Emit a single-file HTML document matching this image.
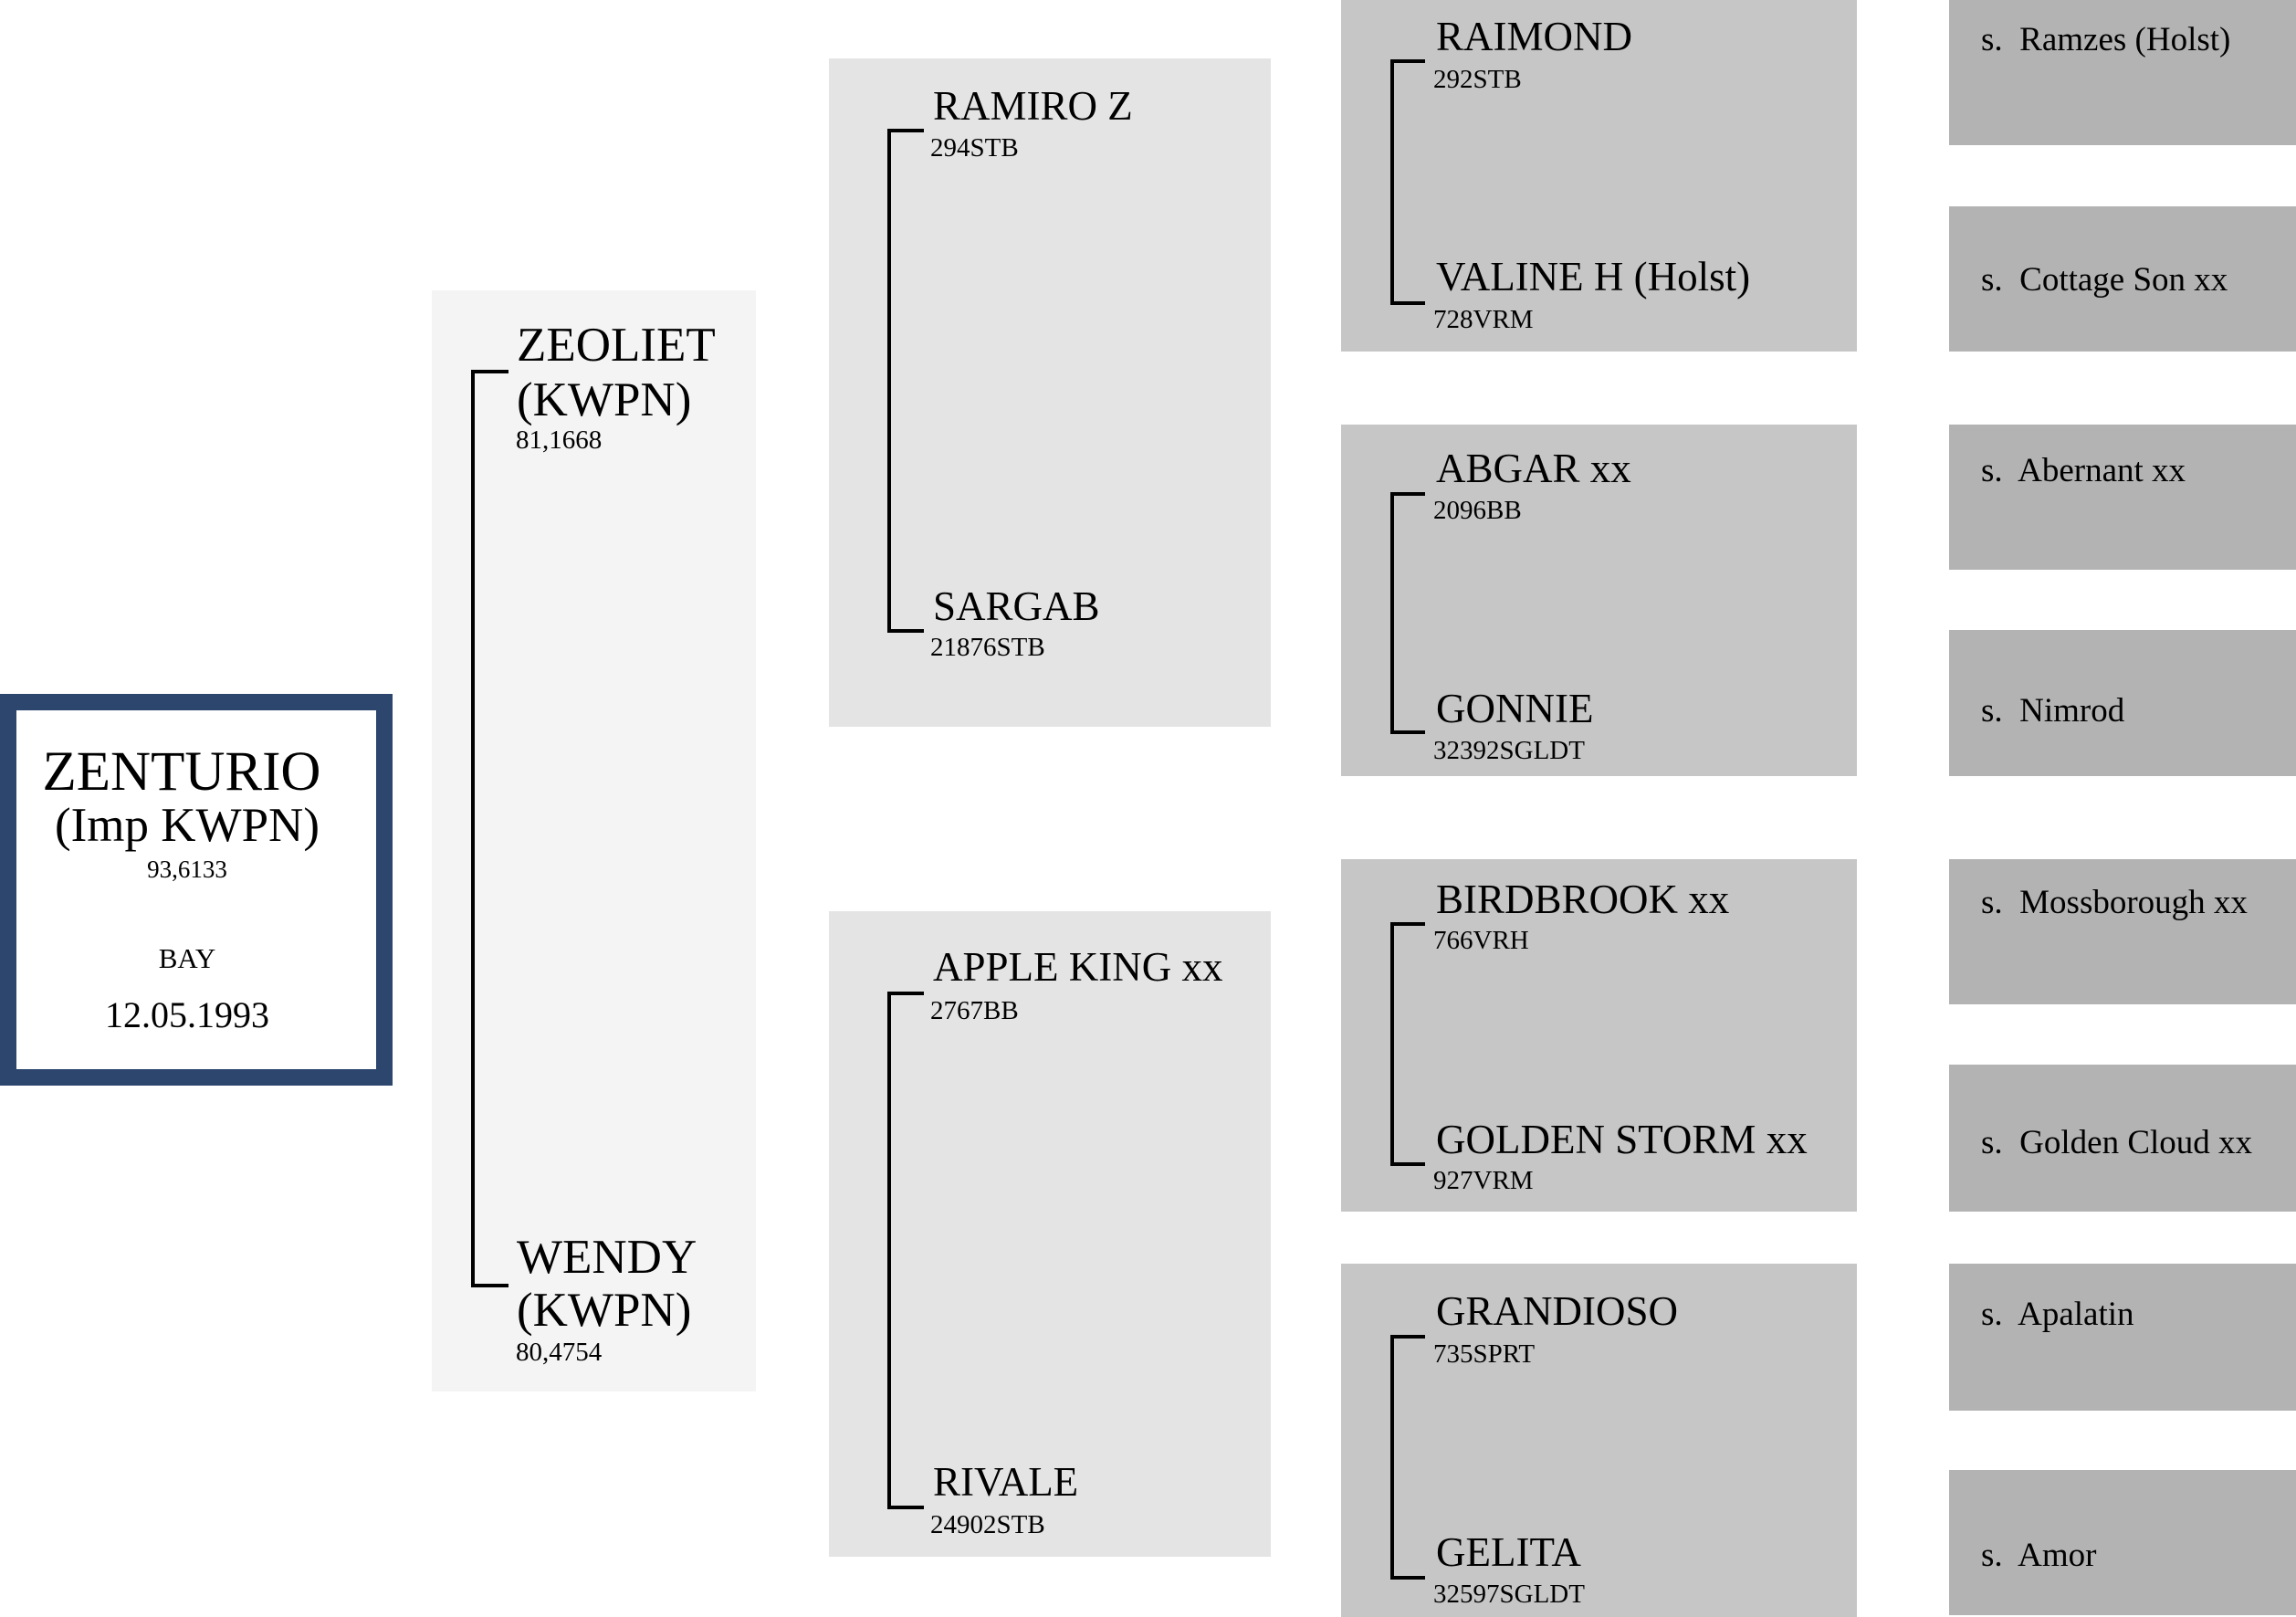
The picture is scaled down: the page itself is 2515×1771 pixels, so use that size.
<!DOCTYPE html>
<html><head><meta charset="utf-8"><style>
html,body{margin:0;padding:0;background:#fff;}
body{width:2515px;height:1771px;position:relative;overflow:hidden;font-family:"Liberation Serif",serif;color:#000;}
.b{position:absolute;}
.t{position:absolute;line-height:1;white-space:nowrap;}
.n{font-size:45px;}
.c{font-size:29px;}
.s{font-size:37px;}
.v{position:absolute;background:#000;width:4px;}
.h{position:absolute;background:#000;height:4px;}
</style></head><body>
<!-- subject -->
<div class="b" style="left:0;top:760px;width:394px;height:393px;border:18px solid #2c466d;background:#fff;"></div>
<div class="t" style="left:0;width:398px;text-align:center;top:815px;font-size:61px;">ZENTURIO</div>
<div class="t" style="left:0;width:410px;text-align:center;top:878px;font-size:53px;">(Imp KWPN)</div>
<div class="t" style="left:0;width:410px;text-align:center;top:939px;font-size:27px;">93,6133</div>
<div class="t" style="left:0;width:410px;text-align:center;top:1034px;font-size:31px;">BAY</div>
<div class="t" style="left:0;width:410px;text-align:center;top:1092px;font-size:40px;">12.05.1993</div>

<!-- col1 -->
<div class="b" style="left:473px;top:318px;width:355px;height:1206px;background:#f4f4f4;"></div>
<div class="v" style="left:516px;top:407px;height:1003px;"></div>
<div class="h" style="left:516px;top:405px;width:41px;"></div>
<div class="h" style="left:516px;top:1406px;width:41px;"></div>
<div class="t" style="left:566px;top:352px;font-size:53px;">ZEOLIET</div>
<div class="t" style="left:566px;top:412px;font-size:53px;">(KWPN)</div>
<div class="t c" style="left:565px;top:468px;">81,1668</div>
<div class="t" style="left:566px;top:1351px;font-size:53px;">WENDY</div>
<div class="t" style="left:566px;top:1409px;font-size:53px;">(KWPN)</div>
<div class="t c" style="left:565px;top:1467px;">80,4754</div>

<!-- col2 -->
<div class="b" style="left:908px;top:64px;width:484px;height:732px;background:#e4e4e4;"></div>
<div class="b" style="left:908px;top:998px;width:484px;height:707px;background:#e4e4e4;"></div>
<div class="v" style="left:972px;top:143px;height:550px;"></div>
<div class="h" style="left:972px;top:141px;width:40px;"></div>
<div class="h" style="left:972px;top:689px;width:40px;"></div>
<div class="v" style="left:972px;top:1088px;height:565px;"></div>
<div class="h" style="left:972px;top:1086px;width:40px;"></div>
<div class="h" style="left:972px;top:1649px;width:40px;"></div>
<div class="t n" style="left:1022px;top:94px;">RAMIRO Z</div>
<div class="t c" style="left:1019px;top:148px;">294STB</div>
<div class="t n" style="left:1022px;top:642px;">SARGAB</div>
<div class="t c" style="left:1019px;top:695px;">21876STB</div>
<div class="t n" style="left:1022px;top:1037px;">APPLE KING xx</div>
<div class="t c" style="left:1019px;top:1093px;">2767BB</div>
<div class="t n" style="left:1022px;top:1601px;">RIVALE</div>
<div class="t c" style="left:1019px;top:1656px;">24902STB</div>

<!-- col3 -->
<div class="b" style="left:1469px;top:-13px;width:565px;height:398px;background:#c6c6c6;"></div>
<div class="b" style="left:1469px;top:465px;width:565px;height:385px;background:#c6c6c6;"></div>
<div class="b" style="left:1469px;top:941px;width:565px;height:386px;background:#c6c6c6;"></div>
<div class="b" style="left:1469px;top:1384px;width:565px;height:387px;background:#c6c6c6;"></div>

<div class="v" style="left:1523px;top:67px;height:267px;"></div>
<div class="h" style="left:1523px;top:65px;width:38px;"></div>
<div class="h" style="left:1523px;top:330px;width:38px;"></div>
<div class="v" style="left:1523px;top:541px;height:263px;"></div>
<div class="h" style="left:1523px;top:539px;width:38px;"></div>
<div class="h" style="left:1523px;top:800px;width:38px;"></div>
<div class="v" style="left:1523px;top:1012px;height:265px;"></div>
<div class="h" style="left:1523px;top:1010px;width:38px;"></div>
<div class="h" style="left:1523px;top:1273px;width:38px;"></div>
<div class="v" style="left:1523px;top:1464px;height:266px;"></div>
<div class="h" style="left:1523px;top:1462px;width:38px;"></div>
<div class="h" style="left:1523px;top:1726px;width:38px;"></div>

<div class="t n" style="left:1573px;top:18px;">RAIMOND</div>
<div class="t c" style="left:1570px;top:73px;">292STB</div>
<div class="t n" style="left:1573px;top:281px;">VALINE H (Holst)</div>
<div class="t c" style="left:1570px;top:336px;">728VRM</div>
<div class="t n" style="left:1573px;top:491px;">ABGAR xx</div>
<div class="t c" style="left:1570px;top:545px;">2096BB</div>
<div class="t n" style="left:1573px;top:754px;">GONNIE</div>
<div class="t c" style="left:1570px;top:808px;">32392SGLDT</div>
<div class="t n" style="left:1573px;top:963px;">BIRDBROOK xx</div>
<div class="t c" style="left:1570px;top:1016px;">766VRH</div>
<div class="t n" style="left:1573px;top:1226px;">GOLDEN STORM xx</div>
<div class="t c" style="left:1570px;top:1279px;">927VRM</div>
<div class="t n" style="left:1573px;top:1414px;">GRANDIOSO</div>
<div class="t c" style="left:1570px;top:1469px;">735SPRT</div>
<div class="t n" style="left:1573px;top:1678px;">GELITA</div>
<div class="t c" style="left:1570px;top:1732px;">32597SGLDT</div>

<!-- col4 -->
<div class="b" style="left:2135px;top:0;width:380px;height:159px;background:#b3b3b3;"></div>
<div class="b" style="left:2135px;top:226px;width:380px;height:159px;background:#b3b3b3;"></div>
<div class="b" style="left:2135px;top:465px;width:380px;height:159px;background:#b3b3b3;"></div>
<div class="b" style="left:2135px;top:690px;width:380px;height:160px;background:#b3b3b3;"></div>
<div class="b" style="left:2135px;top:941px;width:380px;height:159px;background:#b3b3b3;"></div>
<div class="b" style="left:2135px;top:1166px;width:380px;height:161px;background:#b3b3b3;"></div>
<div class="b" style="left:2135px;top:1384px;width:380px;height:161px;background:#b3b3b3;"></div>
<div class="b" style="left:2135px;top:1610px;width:380px;height:159px;background:#b3b3b3;"></div>
<div class="t s" style="left:2170px;top:25px;">s.&nbsp; Ramzes (Holst)</div>
<div class="t s" style="left:2170px;top:288px;">s.&nbsp; Cottage Son xx</div>
<div class="t s" style="left:2170px;top:497px;">s.&nbsp; Abernant xx</div>
<div class="t s" style="left:2170px;top:760px;">s.&nbsp; Nimrod</div>
<div class="t s" style="left:2170px;top:970px;">s.&nbsp; Mossborough xx</div>
<div class="t s" style="left:2170px;top:1233px;">s.&nbsp; Golden Cloud xx</div>
<div class="t s" style="left:2170px;top:1421px;">s.&nbsp; Apalatin</div>
<div class="t s" style="left:2170px;top:1685px;">s.&nbsp; Amor</div>
</body></html>
